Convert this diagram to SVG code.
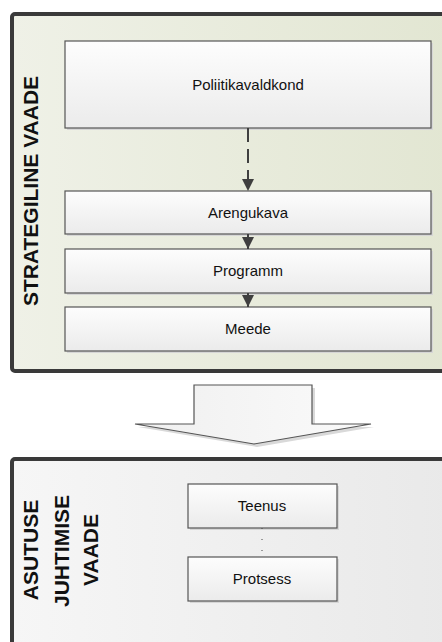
<svg xmlns="http://www.w3.org/2000/svg" width="442" height="642" viewBox="0 0 442 642">
  <defs>
    <linearGradient id="gStrat" x1="0" y1="0" x2="1" y2="0">
      <stop offset="0" stop-color="#eff1e7"/>
      <stop offset="1" stop-color="#e2e6d2"/>
    </linearGradient>
    <linearGradient id="gOrg" x1="0" y1="0" x2="1" y2="0">
      <stop offset="0" stop-color="#f6f6f6"/>
      <stop offset="1" stop-color="#e9e9e9"/>
    </linearGradient>
    <linearGradient id="gBox" x1="0" y1="0" x2="0" y2="1">
      <stop offset="0" stop-color="#fdfdfd"/>
      <stop offset="1" stop-color="#ebebeb"/>
    </linearGradient>
    <linearGradient id="gArrow" x1="0" y1="0" x2="1" y2="0">
      <stop offset="0" stop-color="#f0f0f0"/>
      <stop offset="1" stop-color="#fafafa"/>
    </linearGradient>
    <marker id="tri" viewBox="0 0 12 12" refX="12" refY="6" markerWidth="12" markerHeight="12" markerUnits="userSpaceOnUse" orient="auto">
      <path d="M0,0 L12,6 L0,12 Z" fill="#3f3f3f"/>
    </marker>
  </defs>
  <style>
    .frame { stroke: #3a3a3a; stroke-width: 4; }
    .box { fill: url(#gBox); stroke: #555555; stroke-width: 1.2; }
    .shadow { fill: #d6d6d6; }
    .lbl { font-family: "Liberation Sans", Arial, sans-serif; font-size: 15px; fill: #111111; text-anchor: middle; }
    .title { font-family: "Liberation Sans", Arial, sans-serif; font-size: 21px; font-weight: bold; fill: #111111; text-anchor: middle; }
    .conn { stroke: #3f3f3f; stroke-width: 2; fill: none; }
  </style>

  <rect width="442" height="642" fill="#ffffff"/>

  <!-- strategic view container -->
  <g id="strategic-view">
    <rect x="13" y="15" width="440" height="358" rx="3" fill="#d8d8d8" opacity="0.6"/>
    <rect x="12" y="14" width="440" height="357" rx="3" fill="url(#gStrat)" class="frame"/>
    <text class="title" transform="translate(38,191) rotate(-90)">STRATEGILINE VAADE</text>
  </g>

  <!-- organisational view container -->
  <g id="org-view">
    <rect x="12" y="459" width="440" height="200" rx="3" fill="url(#gOrg)" class="frame" stroke-width="3"/>
    <g class="title">
      <text transform="translate(38,550) rotate(-90)">ASUTUSE</text>
      <text transform="translate(69,551) rotate(-90)">JUHTIMISE</text>
      <text transform="translate(98,550) rotate(-90)">VAADE</text>
    </g>
  </g>

  <!-- transition arrow between the views -->
  <g id="transition-arrow">
    <path d="M197,388 H315 V427 H374 L257,447 L138,427 H197 Z" fill="#d9d9d9"/>
    <path d="M194,385 H312 V424 H371 L254,444 L135,424 H194 Z" fill="url(#gArrow)" stroke="#555555" stroke-width="1.2"/>
  </g>

  <!-- policy area -->
  <g id="poliitikavaldkond">
    <rect x="67" y="43" width="366" height="87" class="shadow"/>
    <rect x="65" y="41" width="366" height="87" class="box"/>
    <text class="lbl" x="248" y="90">Poliitikavaldkond</text>
  </g>

  <g id="arengukava">
    <rect x="67" y="193" width="366" height="43" class="shadow"/>
    <rect x="65" y="191" width="366" height="43" class="box"/>
    <text class="lbl" x="248" y="218">Arengukava</text>
  </g>

  <g id="programm">
    <rect x="67" y="251" width="366" height="44" class="shadow"/>
    <rect x="65" y="249" width="366" height="44" class="box"/>
    <text class="lbl" x="248" y="276">Programm</text>
  </g>

  <g id="meede">
    <rect x="67" y="309" width="366" height="44" class="shadow"/>
    <rect x="65" y="307" width="366" height="44" class="box"/>
    <text class="lbl" x="248" y="334">Meede</text>
  </g>

  <g id="teenus">
    <rect x="190" y="486" width="149" height="44" class="shadow"/>
    <rect x="188" y="484" width="149" height="44" class="box"/>
    <text class="lbl" x="262" y="511">Teenus</text>
  </g>

  <g id="protsess">
    <rect x="190" y="559" width="149" height="44" class="shadow"/>
    <rect x="188" y="557" width="149" height="44" class="box"/>
    <text class="lbl" x="262" y="584">Protsess</text>
  </g>

  <!-- connectors -->
  <g id="connectors">
    <line class="conn" x1="248" y1="128" x2="248" y2="191" stroke-dasharray="14,7" marker-end="url(#tri)"/>
    <line class="conn" x1="248" y1="234" x2="248" y2="249" marker-end="url(#tri)"/>
    <line class="conn" x1="248" y1="293" x2="248" y2="307" marker-end="url(#tri)"/>
    <line x1="262" y1="528" x2="262" y2="557" stroke="#444444" stroke-width="1" stroke-dasharray="1,10" stroke-dashoffset="0"/>
  </g>
</svg>
